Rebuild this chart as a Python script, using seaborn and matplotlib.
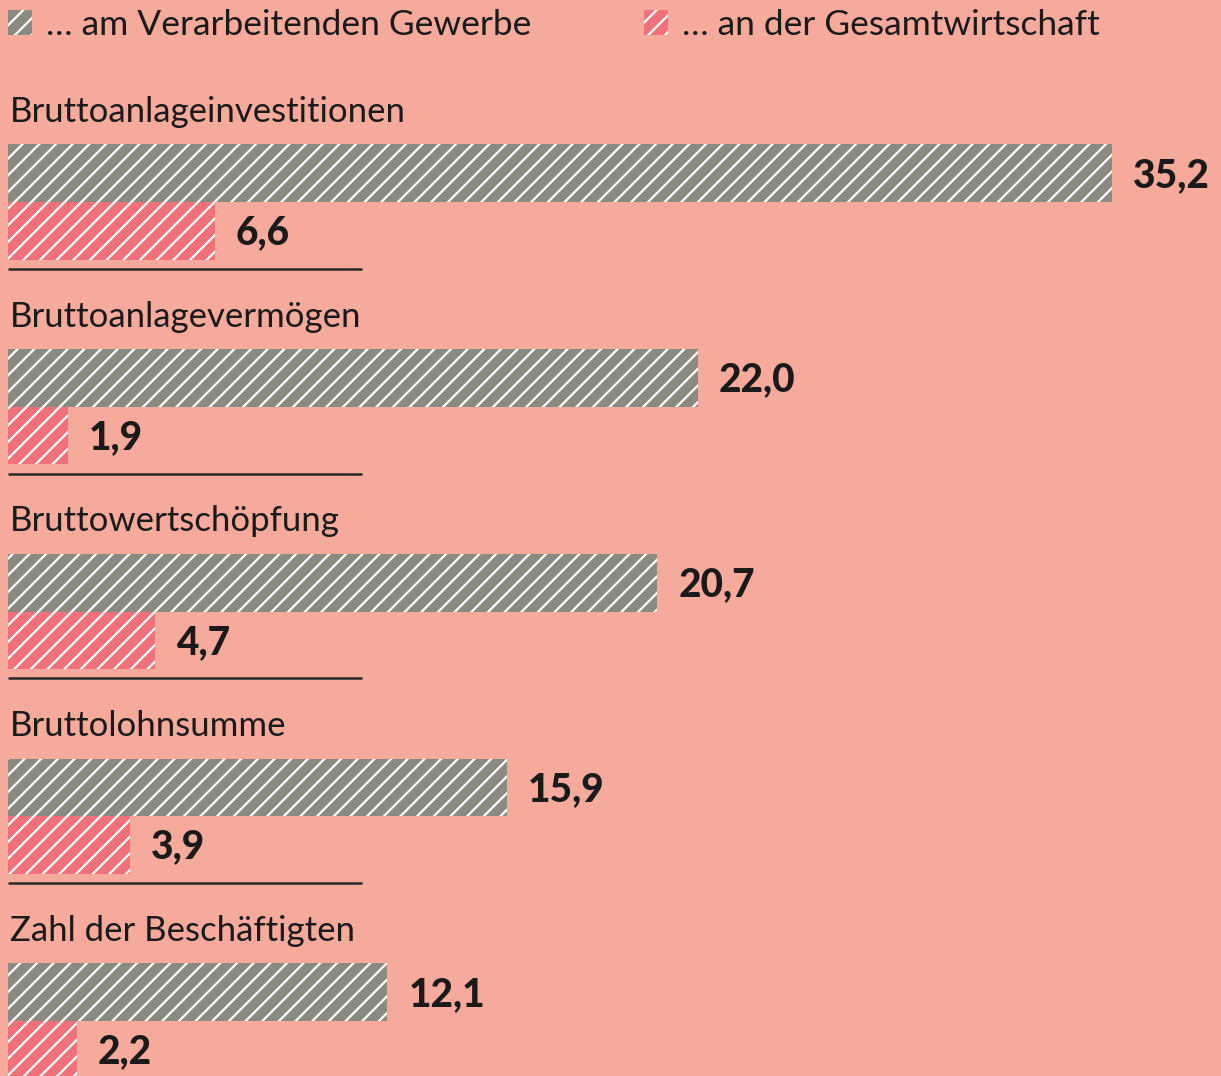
import numpy as np
import pandas as pd
import matplotlib
matplotlib.use("Agg")
import matplotlib.pyplot as plt
from matplotlib.patches import Patch
import seaborn as sns

# data
categories = ["Bruttoanlageinvestitionen", "Bruttoanlagevermögen", "Bruttowertschöpfung",
              "Bruttolohnsumme", "Zahl der Beschäftigten"]
series_names = ["… am Verarbeitenden Gewerbe", "… an der Gesamtwirtschaft"]
anteil_vg = [35.2, 22.0, 20.7, 15.9, 12.1]
anteil_gw = [6.6, 1.9, 4.7, 3.9, 2.2]

BG = "#F6AA9C"
GREY = "#8B8A81"
RED = "#F0717A"
TXT = "#1A1A1A"

df = pd.DataFrame({
    "Kategorie": categories * 2,
    "Reihe": [series_names[0]] * len(categories) + [series_names[1]] * len(categories),
    "Wert": anteil_vg + anteil_gw,
})


def fmt(v):
    return f"{v:.1f}".replace(".", ",")


def main():
    sns.set_theme(style="white")
    plt.rcParams["font.family"] = ["Lato", "DejaVu Sans"]
    plt.rcParams["hatch.linewidth"] = 1.6

    fig = plt.figure(figsize=(12.21, 10.76), dpi=100, facecolor=BG)
    ax = fig.add_axes([0, 0, 1, 1])
    ax.set_facecolor(BG)

    sns.barplot(data=df, y="Kategorie", x="Wert", hue="Reihe", order=categories,
                hue_order=series_names, palette=[GREY, RED], orient="h",
                width=0.5625, dodge=True, legend=False, ax=ax,
                edgecolor="white", linewidth=0, saturation=1)

    for p in ax.patches:
        p.set_hatch("//")
        p.set_edgecolor("white")
        p.set_linewidth(0)

    # value labels
    for cont, vals in zip(ax.containers, [anteil_vg, anteil_gw]):
        for bar, v in zip(cont, vals):
            yc = bar.get_y() + bar.get_height() / 2
            ax.text(bar.get_width() + 0.67, yc + 0.01, fmt(v), va="center", ha="left",
                    fontsize=28, fontweight="black", color=TXT)

    # category titles and separator lines
    for i, cat in enumerate(categories):
        ax.text(0.06, i - 0.44, cat, va="center", ha="left", fontsize=25, color=TXT)
        ax.plot([0, 11.29], [i + 0.327, i + 0.327], color="#2a2a2a", lw=1.8,
                solid_capstyle="butt")

    ax.set_xlim(-0.255, 38.68)
    ax.set_ylim(4.2686, -0.9866)
    ax.axis("off")

    handles = [Patch(facecolor=GREY, edgecolor="white", hatch="//", linewidth=0),
               Patch(facecolor=RED, edgecolor="white", hatch="//", linewidth=0)]
    fig.legend(handles, series_names, loc="upper left", bbox_to_anchor=(8 / 1221, 1 - 9 / 1076),
               ncol=2, frameon=False, fontsize=25.5, handlelength=0.68, handleheight=0.7,
               handletextpad=0.38, columnspacing=3.2, borderpad=0, borderaxespad=0,
               labelcolor=TXT)

    fig.savefig("out.png", dpi=100, facecolor=BG)


if __name__ == "__main__":
    main()
